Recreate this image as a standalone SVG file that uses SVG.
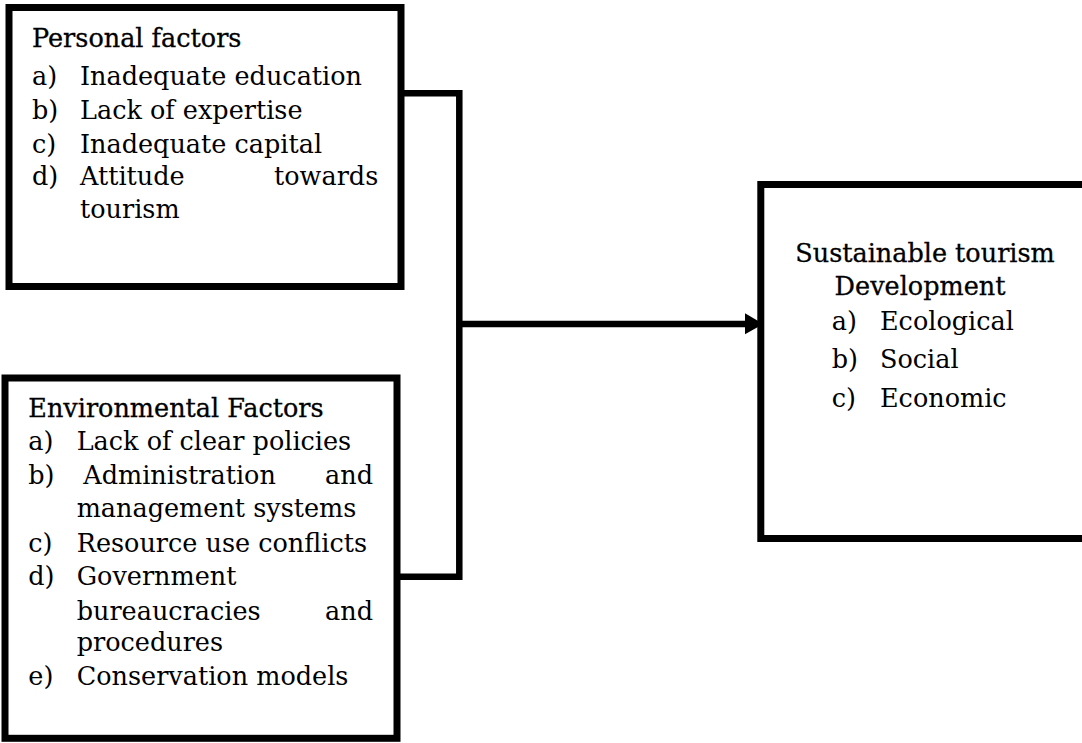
<svg xmlns="http://www.w3.org/2000/svg" width="1082" height="743" viewBox="0 0 1082 743">
<style>
.box{fill:#fff;stroke:#000;stroke-width:7}
.con{fill:none;stroke:#000;stroke-width:6.5;stroke-linejoin:miter;stroke-linecap:butt}
text{font-family:"DejaVu Serif","Liberation Serif",serif;font-size:25.5px;fill:#000}
.hd{font-size:25.5px;stroke:#000;stroke-width:0.3}
</style>
<rect width="1082" height="743" fill="#fff"/>
<g id="connectors">
<path class="con" d="M401,93.3 H459.3 V576.7 H393"/>
<path class="con" d="M459.3,324 H747"/>
<polygon points="745,313.3 763.3,324 745,334.3" fill="#000"/>
</g>
<g id="personal-factors">
<rect class="box" x="9" y="7.5" width="392" height="279"/>
<text class="hd" x="32" y="46.7">Personal factors</text>
<text x="32" y="85">a)</text><text x="80" y="85">Inadequate education</text>
<text x="32" y="119.3">b)</text><text x="80" y="119.3">Lack of expertise</text>
<text x="32" y="153.3">c)</text><text x="80" y="153.3">Inadequate capital</text>
<text x="32" y="185">d)</text><text x="80" y="185">Attitude</text><text x="274" y="185">towards</text>
<text x="80" y="218.3">tourism</text>
</g>
<g id="environmental-factors">
<rect class="box" x="5" y="378" width="392" height="360.3"/>
<text class="hd" x="28.3" y="416.7">Environmental Factors</text>
<text x="28.3" y="450">a)</text><text x="76.7" y="450">Lack of clear policies</text>
<text x="28.3" y="484">b)</text><text x="83.3" y="484">Administration</text><text x="325" y="484">and</text>
<text x="76.7" y="516.7">management systems</text>
<text x="28.3" y="551.7">c)</text><text x="76.7" y="551.7">Resource use conflicts</text>
<text x="28.3" y="585">d)</text><text x="76.7" y="585">Government</text>
<text x="76.7" y="620">bureaucracies</text><text x="325" y="620">and</text>
<text x="76.7" y="651">procedures</text>
<text x="28.3" y="685">e)</text><text x="76.7" y="685">Conservation models</text>
</g>
<g id="sustainable-tourism-development">
<rect class="box" x="760.8" y="184.5" width="400" height="354"/>
<text class="hd" x="925" y="261.7" text-anchor="middle">Sustainable tourism</text>
<text class="hd" x="920" y="295" text-anchor="middle">Development</text>
<text x="831.7" y="330">a)</text><text x="880" y="330">Ecological</text>
<text x="831.7" y="368.3">b)</text><text x="880" y="368.3">Social</text>
<text x="831.7" y="406.7">c)</text><text x="880" y="406.7">Economic</text>
</g>
</svg>
